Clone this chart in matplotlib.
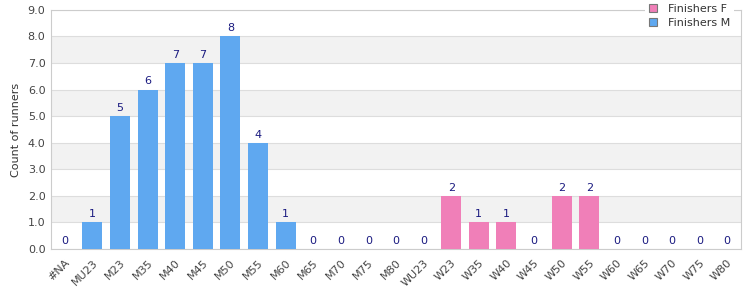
import numpy as np
import matplotlib.pyplot as plt
from matplotlib.patches import Patch

categories = ['#NA', 'MU23', 'M23', 'M35', 'M40', 'M45', 'M50', 'M55', 'M60', 'M65',
              'M70', 'M75', 'M80', 'WU23', 'W23', 'W35', 'W40', 'W45', 'W50', 'W55',
              'W60', 'W65', 'W70', 'W75', 'W80']
counts = [0, 1, 5, 6, 7, 7, 8, 4, 1, 0,
          0, 0, 0, 0, 2, 1, 1, 0, 2, 2,
          0, 0, 0, 0, 0]
female = [False] * 14 + [True] * 11

col_m = '#5fa8f0'
col_f = '#f07fb8'

fig = plt.figure(figsize=(7.5, 3), dpi=100)
ax = fig.add_axes([0.068, 0.17, 0.92, 0.797])

x = np.arange(len(categories))
colors = [col_f if f else col_m for f in female]
ax.bar(x, counts, width=0.72, color=colors, zorder=3)

for xi, c in zip(x, counts):
    ax.text(xi, c + 0.12, str(c), ha='center', va='bottom', fontsize=8, color='#1a1a80', zorder=4)

ax.set_xlim(-0.5, len(categories) - 0.5)
ax.set_ylim(0, 9)
for k in range(1, 9, 2):
    ax.axhspan(k, k + 1, color='#f2f2f2', zorder=0, lw=0)
ax.set_yticks(np.arange(0, 9.5, 1))
ax.set_yticklabels([f'{v:.1f}' for v in np.arange(0, 9.5, 1)])
ax.yaxis.grid(True, color='#dddddd', lw=0.8, zorder=1)
ax.set_axisbelow(True)

ax.set_xticks(x)
ax.set_xticklabels(categories, rotation=45, ha='right', rotation_mode='anchor')
ax.tick_params(axis='both', length=0, labelsize=8, colors='#444444', pad=4)
ax.tick_params(axis='x', pad=6)
for s in ax.spines.values():
    s.set_color('#cccccc')
    s.set_linewidth(0.8)

ax.set_ylabel('Count of runners', fontsize=8, color='#333333', labelpad=5)

handles = [Patch(facecolor=col_f, edgecolor='#777777', lw=0.8, label='Finishers F'),
           Patch(facecolor=col_m, edgecolor='#777777', lw=0.8, label='Finishers M')]
leg = ax.legend(handles=handles, loc='upper right', bbox_to_anchor=(0.99, 1.04),
                fontsize=8, frameon=True, fancybox=False, handlelength=0.75, handleheight=0.75,
                borderpad=0.35, labelspacing=0.35, handletextpad=1.0, borderaxespad=0.0)
leg.get_frame().set_edgecolor('none')
leg.get_frame().set_facecolor('white')
leg.get_frame().set_alpha(1)
for t in leg.get_texts():
    t.set_color('#333333')

fig.savefig('out.png', dpi=100)
